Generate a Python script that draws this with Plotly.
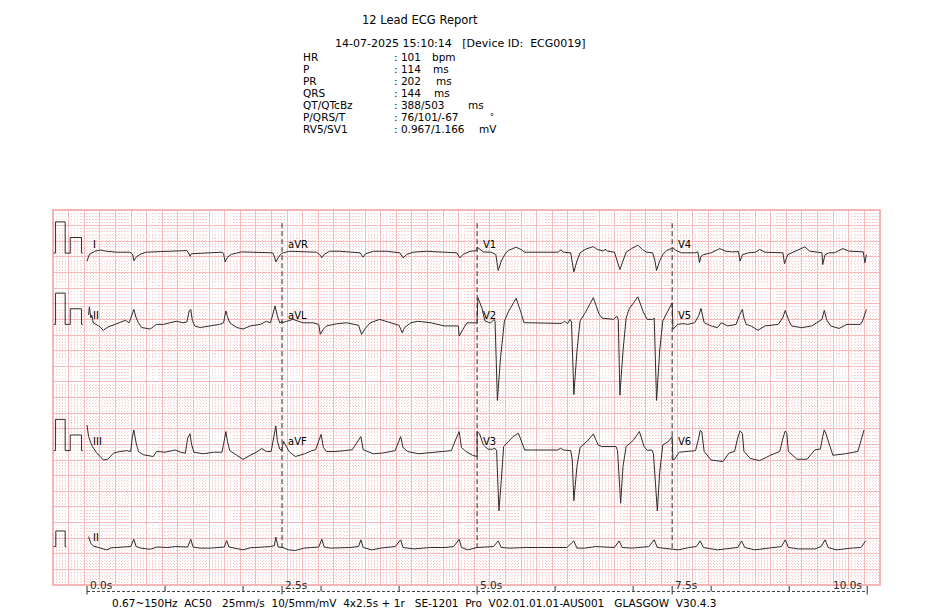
import plotly.graph_objects as go

# ------------------------------------------------------------------ header data
TITLE = "12 Lead ECG Report"
RECORD_LINE = "14-07-2025 15:10:14   [Device ID:  ECG0019]"
MEAS_NAMES = ["HR", "P", "PR", "QRS", "QT/QTcBz", "P/QRS/T", "RV5/SV1"]
MEAS_VALUES = ["101", "114", "202", "144", "388/503", "76/101/-67", "0.967/1.166"]
MEAS_UNITS = ["bpm", "ms", "ms", "ms", "ms", "°", "mV"]
FOOTER = "0.67~150Hz  AC50   25mm/s  10/5mm/mV  4x2.5s + 1r   SE-1201  Pro  V02.01.01.01-AUS001   GLASGOW  V30.4.3"

# time axis labels (s)
TICK_SECONDS = [0, 1, 2, 2.5, 3, 4, 5, 6, 7, 7.5, 8, 9, 10]
LABEL_SECONDS = [0.0, 2.5, 5.0, 7.5, 10.0]
LABEL_TEXT = ["0.0s", "2.5s", "5.0s", "7.5s", "10.0s"]

# lead names per row (4 columns of 2.5 s) and rhythm lead
ROW_LEADS = [["I", "aVR", "V1", "V4"], ["II", "aVL", "V2", "V5"], ["III", "aVF", "V3", "V6"]]
RHYTHM_LEAD = "II"

# ------------------------------------------------------------------ waveforms (time s, mV)
I_T = [0.00, 0.03, 0.10, 0.17, 0.25, 0.38, 0.55, 0.585, 0.60, 0.63, 0.68, 0.76, 0.94, 1.15, 1.28, 1.30, 1.32, 1.34,
       1.40, 1.58, 1.73, 1.75, 1.77, 1.80, 1.85, 1.98, 2.17, 2.30, 2.38, 2.40, 2.42, 2.45, 2.48, 2.50]
I_MV = [-0.26, -0.04, 0.06, 0.10, 0.06, 0.03, 0.03, -0.04, -0.24, -0.13, -0.04, 0.03, 0.05, 0.06, 0.08, 0.01, -0.10,
        -0.02, -0.01, 0.02, 0.03, -0.01, -0.28, -0.13, -0.04, 0.04, 0.03, 0.01, 0.01, -0.10, -0.28, -0.15, -0.04, -0.01]

AVR_T = [2.515, 2.60, 2.77, 2.94, 2.98, 3.01, 3.04, 3.11, 3.24, 3.37, 3.50, 3.54, 3.57, 3.67, 3.84, 4.01, 4.05, 4.10,
         4.18, 4.35, 4.56, 4.74, 4.78, 4.82, 4.91, 4.97, 4.995]
AVR_MV = [0.01, 0.06, 0.04, 0.03, -0.04, -0.15, -0.04, 0.06, 0.06, 0.03, 0.01, -0.13, -0.02, 0.06, 0.06, 0.01, -0.15,
          -0.04, 0.03, 0.06, 0.04, 0.01, -0.15, -0.04, 0.06, 0.08, 0.08]

V1_T = [5.00, 5.035, 5.08, 5.18, 5.24, 5.27, 5.31, 5.36, 5.40, 5.50, 5.57, 5.61, 6.04, 6.07, 6.11, 6.20, 6.22, 6.24,
        6.28, 6.32, 6.38, 6.49, 6.54, 6.62, 6.64, 6.67, 6.76, 6.80, 6.83, 6.87, 6.91, 6.98, 7.06, 7.12, 7.17, 7.25,
        7.28, 7.30, 7.34, 7.38, 7.43, 7.49]
V1_MV = [0.38, 0.23, 0.08, 0.06, -0.09, -1.11, -0.51, -0.04, 0.17, 0.38, 0.21, 0.06, 0.06, 0.21, 0.06, 0.02, -0.50,
         -1.20, -0.50, 0.02, 0.23, 0.42, 0.23, 0.13, 0.26, 0.13, 0.06, -0.50, -1.05, -0.50, 0.06, 0.29, 0.51, 0.23,
         0.06, 0.02, -0.50, -1.11, -0.50, -0.09, 0.17, 0.29]

V4_T = [7.51, 7.55, 7.62, 7.79, 7.83, 7.85, 7.87, 7.90, 8.00, 8.11, 8.18, 8.26, 8.35, 8.37, 8.40, 8.48, 8.57, 8.62,
        8.69, 8.92, 8.94, 8.98, 9.05, 9.20, 9.26, 9.39, 9.42, 9.43, 9.46, 9.51, 9.58, 9.69, 9.76, 9.95, 9.97, 9.99]
V4_MV = [0.34, 0.17, 0.02, 0.02, 0.08, -0.62, -0.20, -0.10, 0.02, 0.29, 0.13, 0.08, 0.10, -0.51, -0.10, 0.02, 0.06,
         0.23, 0.06, 0.02, -0.68, -0.10, 0.06, 0.40, 0.13, 0.06, 0.02, -0.73, -0.10, 0.02, 0.02, 0.29, 0.13, 0.08,
         -0.62, -0.10]

II_T = [0.02, 0.03, 0.05, 0.06, 0.08, 0.15, 0.21, 0.27, 0.36, 0.42, 0.49, 0.54, 0.58, 0.60, 0.63, 0.66, 0.70, 0.81,
        0.89, 0.98, 1.06, 1.15, 1.23, 1.28, 1.31, 1.33, 1.35, 1.38, 1.45, 1.58, 1.70, 1.75, 1.78, 1.80, 1.83, 1.92,
        2.00, 2.09, 2.22, 2.30, 2.35, 2.38, 2.41, 2.44, 2.47, 2.50]
II_MV = [0.30, 0.56, 0.21, 0.30, 0.05, -0.05, -0.19, -0.08, 0.00, 0.05, 0.13, 0.05, 0.30, 0.48, 0.21, 0.05, -0.10,
         -0.15, 0.00, 0.00, 0.05, 0.10, 0.05, 0.08, 0.43, 0.48, 0.13, -0.05, -0.10, -0.05, 0.00, 0.05, 0.43, 0.25,
         0.05, -0.10, -0.15, -0.05, 0.00, 0.10, 0.05, 0.30, 0.59, 0.27, 0.05, 0.10]

AVL_T = [2.50, 2.56, 2.64, 2.77, 2.90, 2.97, 2.99, 3.03, 3.07, 3.20, 3.33, 3.48, 3.52, 3.56, 3.63, 3.75, 3.88, 4.00,
         4.04, 4.07, 4.15, 4.24, 4.41, 4.58, 4.76, 4.77, 4.82, 4.87, 4.97, 5.00]
AVL_MV = [0.05, 0.10, 0.16, 0.05, 0.05, 0.00, -0.32, -0.15, -0.05, 0.02, 0.05, -0.03, -0.32, -0.15, 0.05, 0.16, 0.05,
          -0.03, -0.27, -0.10, 0.05, 0.10, 0.05, -0.05, -0.05, -0.37, -0.15, 0.05, 0.05, 0.05]

V2_T = [5.00, 5.01, 5.06, 5.10, 5.17, 5.22, 5.23, 5.26, 5.30, 5.35, 5.40, 5.50, 5.56, 5.60, 6.08, 6.12, 6.16, 6.19,
        6.21, 6.24, 6.28, 6.32, 6.38, 6.49, 6.56, 6.60, 6.75, 6.79, 6.81, 6.83, 6.87, 6.91, 6.95, 7.06, 7.13, 7.18,
        7.25, 7.27, 7.30, 7.34, 7.38, 7.45, 7.50]
V2_MV = [0.30, 1.71, 1.07, 0.22, 0.09, 0.32, 0.20, -4.87, -2.13, 0.22, 0.80, 1.67, 0.80, 0.11, 0.06, 0.20, 0.05, 0.32,
         0.15, -4.49, -1.70, 0.22, 0.70, 1.71, 0.70, 0.40, 0.32, 0.53, 0.30, -4.53, -1.70, 0.40, 1.00, 1.76, 0.80,
         0.32, 0.32, 0.40, -4.87, -1.70, 0.22, 0.90, 1.39]

V5_T = [7.51, 7.57, 7.64, 7.70, 7.79, 7.84, 7.87, 7.89, 7.91, 8.00, 8.08, 8.13, 8.21, 8.32, 8.36, 8.40, 8.42, 8.45,
        8.51, 8.60, 8.69, 8.86, 8.92, 8.95, 8.99, 9.03, 9.16, 9.29, 9.42, 9.45, 9.48, 9.53, 9.64, 9.74, 9.91, 9.94, 9.99]
V5_MV = [-0.32, 0.00, 0.05, 0.00, 0.11, 0.56, 1.02, 0.60, 0.11, -0.10, -0.21, 0.11, -0.10, 0.00, 0.56, 0.96, 0.40,
         0.00, -0.10, -0.38, -0.10, 0.00, 0.45, 0.90, 0.30, -0.10, -0.21, -0.10, 0.32, 0.90, 0.30, -0.10, -0.26, 0.00,
         0.00, 0.20, 0.96]

III_T = [0.00, 0.02, 0.05, 0.07, 0.12, 0.21, 0.27, 0.34, 0.42, 0.51, 0.56, 0.58, 0.60, 0.63, 0.66, 0.72, 0.85, 0.89,
         0.91, 1.00, 1.13, 1.20, 1.26, 1.29, 1.32, 1.34, 1.37, 1.49, 1.62, 1.73, 1.75, 1.78, 1.80, 1.83, 1.92, 2.00,
         2.09, 2.17, 2.24, 2.30, 2.36, 2.39, 2.42, 2.44, 2.47, 2.50]
III_MV = [0.82, 0.45, 0.24, 0.13, -0.06, -0.30, -0.27, -0.08, -0.03, 0.00, -0.03, 0.43, 0.66, 0.24, -0.03, -0.13,
          -0.19, -0.03, -0.03, -0.05, 0.02, -0.05, -0.08, 0.40, 0.54, 0.20, -0.05, -0.10, -0.05, -0.05, 0.20, 0.61,
          0.30, 0.00, -0.15, -0.28, -0.15, -0.05, 0.07, -0.03, -0.03, 0.40, 0.79, 0.30, 0.05, 0.00]

AVF_T = [2.50, 2.52, 2.59, 2.67, 2.79, 2.88, 2.93, 3.00, 3.03, 3.07, 3.18, 3.30, 3.40, 3.51, 3.54, 3.67, 3.78, 3.89,
         3.95, 4.02, 4.05, 4.11, 4.25, 4.46, 4.67, 4.70, 4.77, 4.80, 4.86, 4.94, 5.00]
AVF_MV = [0.10, 0.29, -0.03, -0.19, -0.10, 0.00, 0.03, 0.52, 0.10, -0.03, -0.03, 0.00, 0.03, 0.45, 0.03, -0.10, -0.08,
          -0.03, 0.00, 0.45, 0.10, -0.03, -0.10, -0.05, 0.00, 0.20, 0.61, 0.10, -0.03, -0.15, -0.19]

V3_T = [5.00, 5.03, 5.08, 5.14, 5.20, 5.23, 5.25, 5.28, 5.31, 5.34, 5.40, 5.46, 5.53, 5.58, 5.61, 6.03, 6.07, 6.11,
        6.20, 6.22, 6.24, 6.28, 6.32, 6.41, 6.49, 6.55, 6.60, 6.78, 6.80, 6.84, 6.87, 6.91, 7.00, 7.08, 7.14, 7.18,
        7.24, 7.26, 7.31, 7.34, 7.38, 7.45, 7.50]
V3_MV = [1.22, 1.10, 0.37, 0.09, 0.09, 0.15, 0.00, -3.85, -1.90, 0.26, 0.57, 0.90, 1.11, 0.37, 0.04, 0.04, 0.15, 0.04,
         0.00, -0.60, -3.20, -1.00, 0.20, 0.60, 1.07, 0.37, 0.26, 0.26, 0.00, -3.37, -1.00, 0.26, 0.65, 1.22, 0.26,
         0.02, 0.04, -0.20, -3.85, -1.40, 0.37, 0.57, 0.90]

V6_T = [7.50, 7.51, 7.53, 7.59, 7.72, 7.80, 7.84, 7.86, 7.88, 7.91, 8.00, 8.15, 8.23, 8.30, 8.34, 8.37, 8.40, 8.42,
        8.50, 8.62, 8.76, 8.88, 8.92, 8.95, 8.97, 8.99, 9.10, 9.23, 9.33, 9.40, 9.43, 9.45, 9.47, 9.56, 9.72, 9.88,
        9.93, 9.96]
V6_MV = [0.90, -0.60, -0.55, -0.10, -0.05, 0.00, 0.80, 1.30, 1.20, -0.05, -0.60, -0.70, -0.15, -0.05, 0.80, 1.26,
         1.10, -0.05, -0.50, -0.64, -0.30, -0.05, 0.80, 1.26, 1.10, -0.05, -0.55, -0.55, 0.05, 0.10, 0.90, 1.33, 1.10,
         -0.30, -0.20, -0.05, 0.80, 1.33]

RHY_T = [0.02, 0.05, 0.08, 0.16, 0.25, 0.31, 0.42, 0.50, 0.56, 0.60, 0.63, 0.69, 0.81, 0.90, 1.03, 1.14, 1.29, 1.33,
         1.36, 1.45, 1.58, 1.76, 1.79, 1.82, 1.91, 2.00, 2.09, 2.26, 2.35, 2.40, 2.42, 2.45, 2.51, 2.58, 2.67, 2.78,
         2.90, 2.97, 3.01, 3.04, 3.12, 3.24, 3.37, 3.48, 3.51, 3.54, 3.65, 3.76, 3.95, 4.02, 4.05, 4.19, 4.40, 4.59,
         4.70, 4.77, 4.80, 4.88, 5.00, 5.21, 5.27, 5.31, 5.42, 5.63, 5.90, 6.15, 6.24, 6.28, 6.38, 6.52, 6.76, 6.82,
         6.86, 6.99, 7.20, 7.27, 7.31, 7.45, 7.58, 7.72, 7.81, 7.86, 7.90, 8.08, 8.26, 8.34, 8.39, 8.43, 8.56, 8.77,
         8.90, 8.95, 8.99, 9.12, 9.33, 9.41, 9.46, 9.50, 9.60, 9.80, 9.92, 9.98]
RHY_MV = [0.64, 0.20, 0.04, -0.10, -0.21, -0.08, -0.06, -0.03, 0.00, 0.47, 0.00, -0.10, -0.17, -0.03, -0.06, 0.00,
          -0.03, 0.47, -0.03, -0.10, -0.10, -0.03, 0.38, -0.03, -0.10, -0.21, -0.08, -0.03, 0.00, 0.06, 0.60, -0.03,
          -0.06, -0.21, -0.25, -0.10, -0.06, -0.03, 0.47, -0.03, -0.10, -0.10, -0.06, 0.00, 0.43, -0.06, -0.21, -0.10,
          0.00, 0.43, -0.06, -0.15, -0.06, -0.06, 0.00, 0.47, -0.06, -0.21, -0.06, 0.00, 0.36, -0.06, -0.10, -0.06,
          -0.06, -0.06, 0.36, -0.10, -0.10, 0.00, -0.06, 0.36, -0.06, -0.10, 0.00, 0.43, -0.06, -0.15, -0.21, -0.06,
          0.00, 0.36, -0.06, -0.21, -0.10, -0.06, 0.36, -0.06, -0.21, -0.10, 0.00, 0.43, -0.06, -0.15, -0.15, 0.00,
          0.43, -0.06, -0.21, -0.10, -0.06, 0.36]

# calibration pulse (time s, pulse on/off) : tall = limb gain, short = chest gain
CAL_T = [-0.436, -0.405, -0.405, -0.28, -0.28, -0.215, -0.215, -0.07, -0.07, -0.055]
CAL_ON = [0, 0, 1, 1, 0, 0, 1, 1, 0, 0]
CAL_KIND = ["L", "L", "L", "L", "L", "C", "C", "C", "C", "C"]
RHY_CAL_T = [-0.436, -0.40, -0.40, -0.28, -0.28, -0.265]
RHY_CAL_ON = [0, 0, 1, 1, 0, 0]

LEAD_DATA = {
    "I": (I_T, I_MV), "aVR": (AVR_T, AVR_MV), "V1": (V1_T, V1_MV), "V4": (V4_T, V4_MV),
    "II": (II_T, II_MV), "aVL": (AVL_T, AVL_MV), "V2": (V2_T, V2_MV), "V5": (V5_T, V5_MV),
    "III": (III_T, III_MV), "aVF": (AVF_T, AVF_MV), "V3": (V3_T, V3_MV), "V6": (V6_T, V6_MV),
}
for k, (tt, vv) in LEAD_DATA.items():
    assert len(tt) == len(vv), k
assert len(RHY_T) == len(RHY_MV)

# ------------------------------------------------------------------ layout constants
# the page body adds an 8px margin, so the figure is drawn 8px smaller and every
# screen position is shifted by that offset
OFF = 8
W, H = 941 - OFF, 612 - OFF
BOX_L, BOX_R, BOX_T, BOX_B = 53, 880, 210, 585      # screen px
PAPER_SPEED = 25.0          # mm/s
LIMB_GAIN = 10.0            # mm/mV
CHEST_GAIN = 5.0            # mm/mV
RHYTHM_GAIN = 5.0
BOX_W_MM, BOX_H_MM = 265, 120
X0 = -0.436                 # time at the left edge of the grid
X1 = X0 + BOX_W_MM / PAPER_SPEED
ROW_BASE = [106.2, 83.4, 43.0, 12.3]   # mm above grid bottom
LABEL_DY = 2.8

GRID_MAJOR = "rgb(246,186,186)"
GRID_MINOR = "rgb(248,206,206)"
BORDER = "rgb(241,160,160)"
INK = "rgb(45,45,45)"
FONT = "DejaVu Sans, Liberation Sans, Arial"

fig = go.Figure()

# ECG rows: each row is one continuous pen trace across the four leads
for r, leads in enumerate(ROW_LEADS):
    xs, ys = [], []
    for c, name in enumerate(leads):
        gain = LIMB_GAIN if c < 2 else CHEST_GAIN
        tt, vv = LEAD_DATA[name]
        xs += list(tt)
        ys += [ROW_BASE[r] + gain * v for v in vv]
    fig.add_trace(go.Scatter(x=xs, y=ys, mode="lines", line=dict(color=INK, width=1), hoverinfo="skip",
                             showlegend=False))
    cy = [ROW_BASE[r] + on * (LIMB_GAIN if k == "L" else CHEST_GAIN) for on, k in zip(CAL_ON, CAL_KIND)]
    fig.add_trace(go.Scatter(x=CAL_T, y=cy, mode="lines", line=dict(color=INK, width=1), hoverinfo="skip",
                             showlegend=False))

fig.add_trace(go.Scatter(x=RHY_T, y=[ROW_BASE[3] + RHYTHM_GAIN * v for v in RHY_MV], mode="lines",
                         line=dict(color=INK, width=1), hoverinfo="skip", showlegend=False))
fig.add_trace(go.Scatter(x=RHY_CAL_T, y=[ROW_BASE[3] + on * RHYTHM_GAIN for on in RHY_CAL_ON], mode="lines",
                         line=dict(color=INK, width=1), hoverinfo="skip", showlegend=False))

shapes = []
annotations = []

shapes.append(dict(type="rect", xref="paper", yref="paper", x0=0, x1=1, y0=0, y1=1,
                   line=dict(color=BORDER, width=1.5), layer="above"))

for c in range(1, 4):
    shapes.append(dict(type="line", xref="x", yref="y", x0=2.5 * c, x1=2.5 * c, y0=11.8, y1=116.8,
                       line=dict(color=INK, width=1, dash="5px,3px"), layer="above"))


def py(p):
    """screen y pixel -> paper coordinate"""
    return (BOX_B - p) / (BOX_B - BOX_T)


def pxx(p):
    """screen x pixel -> paper coordinate"""
    return (p - BOX_L) / (BOX_R - BOX_L)


shapes.append(dict(type="line", xref="x", yref="paper", x0=0, x1=10, y0=py(591.5), y1=py(591.5),
                   line=dict(color="rgb(70,70,70)", width=1, dash="3px,2px")))
for s in TICK_SECONDS:
    long = s in LABEL_SECONDS
    shapes.append(dict(type="line", xref="x", yref="paper", x0=s, x1=s, y0=py(586), y1=py(594.5 if long else 591.5),
                       line=dict(color="rgb(50,50,50)", width=1)))
for s, txt in zip(LABEL_SECONDS, LABEL_TEXT):
    right = s == LABEL_SECONDS[-1]
    annotations.append(dict(x=s, y=py(584.5), xref="x", yref="paper", text=txt, showarrow=False,
                            xanchor="right" if right else "left", yanchor="middle",
                            xshift=-3 if right else 1, font=dict(family=FONT, size=10.5, color="rgb(40,40,40)")))

for r, leads in enumerate(ROW_LEADS):
    for c, name in enumerate(leads):
        annotations.append(dict(x=2.5 * c + 0.045, y=ROW_BASE[r] + LABEL_DY, xref="x", yref="y", text=name,
                                showarrow=False, xanchor="left", yanchor="middle",
                                font=dict(family=FONT, size=10, color="black")))
annotations.append(dict(x=0.045, y=ROW_BASE[3] + LABEL_DY, xref="x", yref="y", text=RHYTHM_LEAD, showarrow=False,
                        xanchor="left", yanchor="middle", font=dict(family=FONT, size=10, color="black")))

hfont = dict(family=FONT, size=10.5, color="black")
annotations.append(dict(x=pxx(420), y=py(20), xref="paper", yref="paper", text=TITLE, showarrow=False,
                        xanchor="center", yanchor="middle", font=dict(family=FONT, size=11.5, color="black")))
annotations.append(dict(x=pxx(333), y=py(44), xref="paper", yref="paper", text=RECORD_LINE, showarrow=False,
                        xanchor="left", yanchor="middle", font=dict(family=FONT, size=11, color="black")))
UNIT_X = [431, 432, 435, 433, 467, 489, 478]
for i, (nm, val, unit) in enumerate(zip(MEAS_NAMES, MEAS_VALUES, MEAS_UNITS)):
    yy = 57 + 12 * i
    annotations.append(dict(x=pxx(302), y=py(yy), xref="paper", yref="paper", text=nm, showarrow=False,
                            xanchor="left", yanchor="middle", font=hfont, borderpad=0))
    annotations.append(dict(x=pxx(393), y=py(yy), xref="paper", yref="paper", text=": " + val, showarrow=False,
                            xanchor="left", yanchor="middle", font=hfont, borderpad=0))
    if unit == "°":
        annotations.append(dict(x=pxx(UNIT_X[i]), y=py(yy), xref="paper", yref="paper", text=unit,
                                showarrow=False, xanchor="left", yanchor="middle", borderpad=0,
                                font=dict(family=FONT, size=8, color="black")))
    else:
        annotations.append(dict(x=pxx(UNIT_X[i]), y=py(yy), xref="paper", yref="paper", text=unit,
                                showarrow=False, xanchor="left", yanchor="middle", font=hfont, borderpad=0))

annotations.append(dict(x=pxx(110), y=py(603), xref="paper", yref="paper", text=FOOTER, showarrow=False,
                        xanchor="left", yanchor="middle", font=dict(family=FONT, size=10.5, color="black")))

fig.update_layout(
    width=W, height=H,
    margin=dict(l=BOX_L - OFF, r=W - (BOX_R - OFF), t=BOX_T - OFF, b=H - (BOX_B - OFF), pad=0),
    paper_bgcolor="white", plot_bgcolor="white",
    showlegend=False,
    shapes=shapes, annotations=annotations,
    xaxis=dict(range=[X0, X1], tick0=X0, dtick=0.2, showgrid=True, gridcolor=GRID_MAJOR, gridwidth=1,
               showticklabels=False, ticks="", zeroline=False, showline=False, fixedrange=True,
               minor=dict(tick0=X0, dtick=0.04, showgrid=True, gridcolor=GRID_MINOR, gridwidth=1,
                          griddash="1px,2px")),
    yaxis=dict(range=[0, BOX_H_MM], tick0=0, dtick=5, showgrid=True, gridcolor=GRID_MAJOR, gridwidth=1,
               showticklabels=False, ticks="", zeroline=False, showline=False, fixedrange=True,
               minor=dict(tick0=0, dtick=1, showgrid=True, gridcolor=GRID_MINOR, gridwidth=1,
                          griddash="1px,2px")),
)

fig.write_html("out.html")
